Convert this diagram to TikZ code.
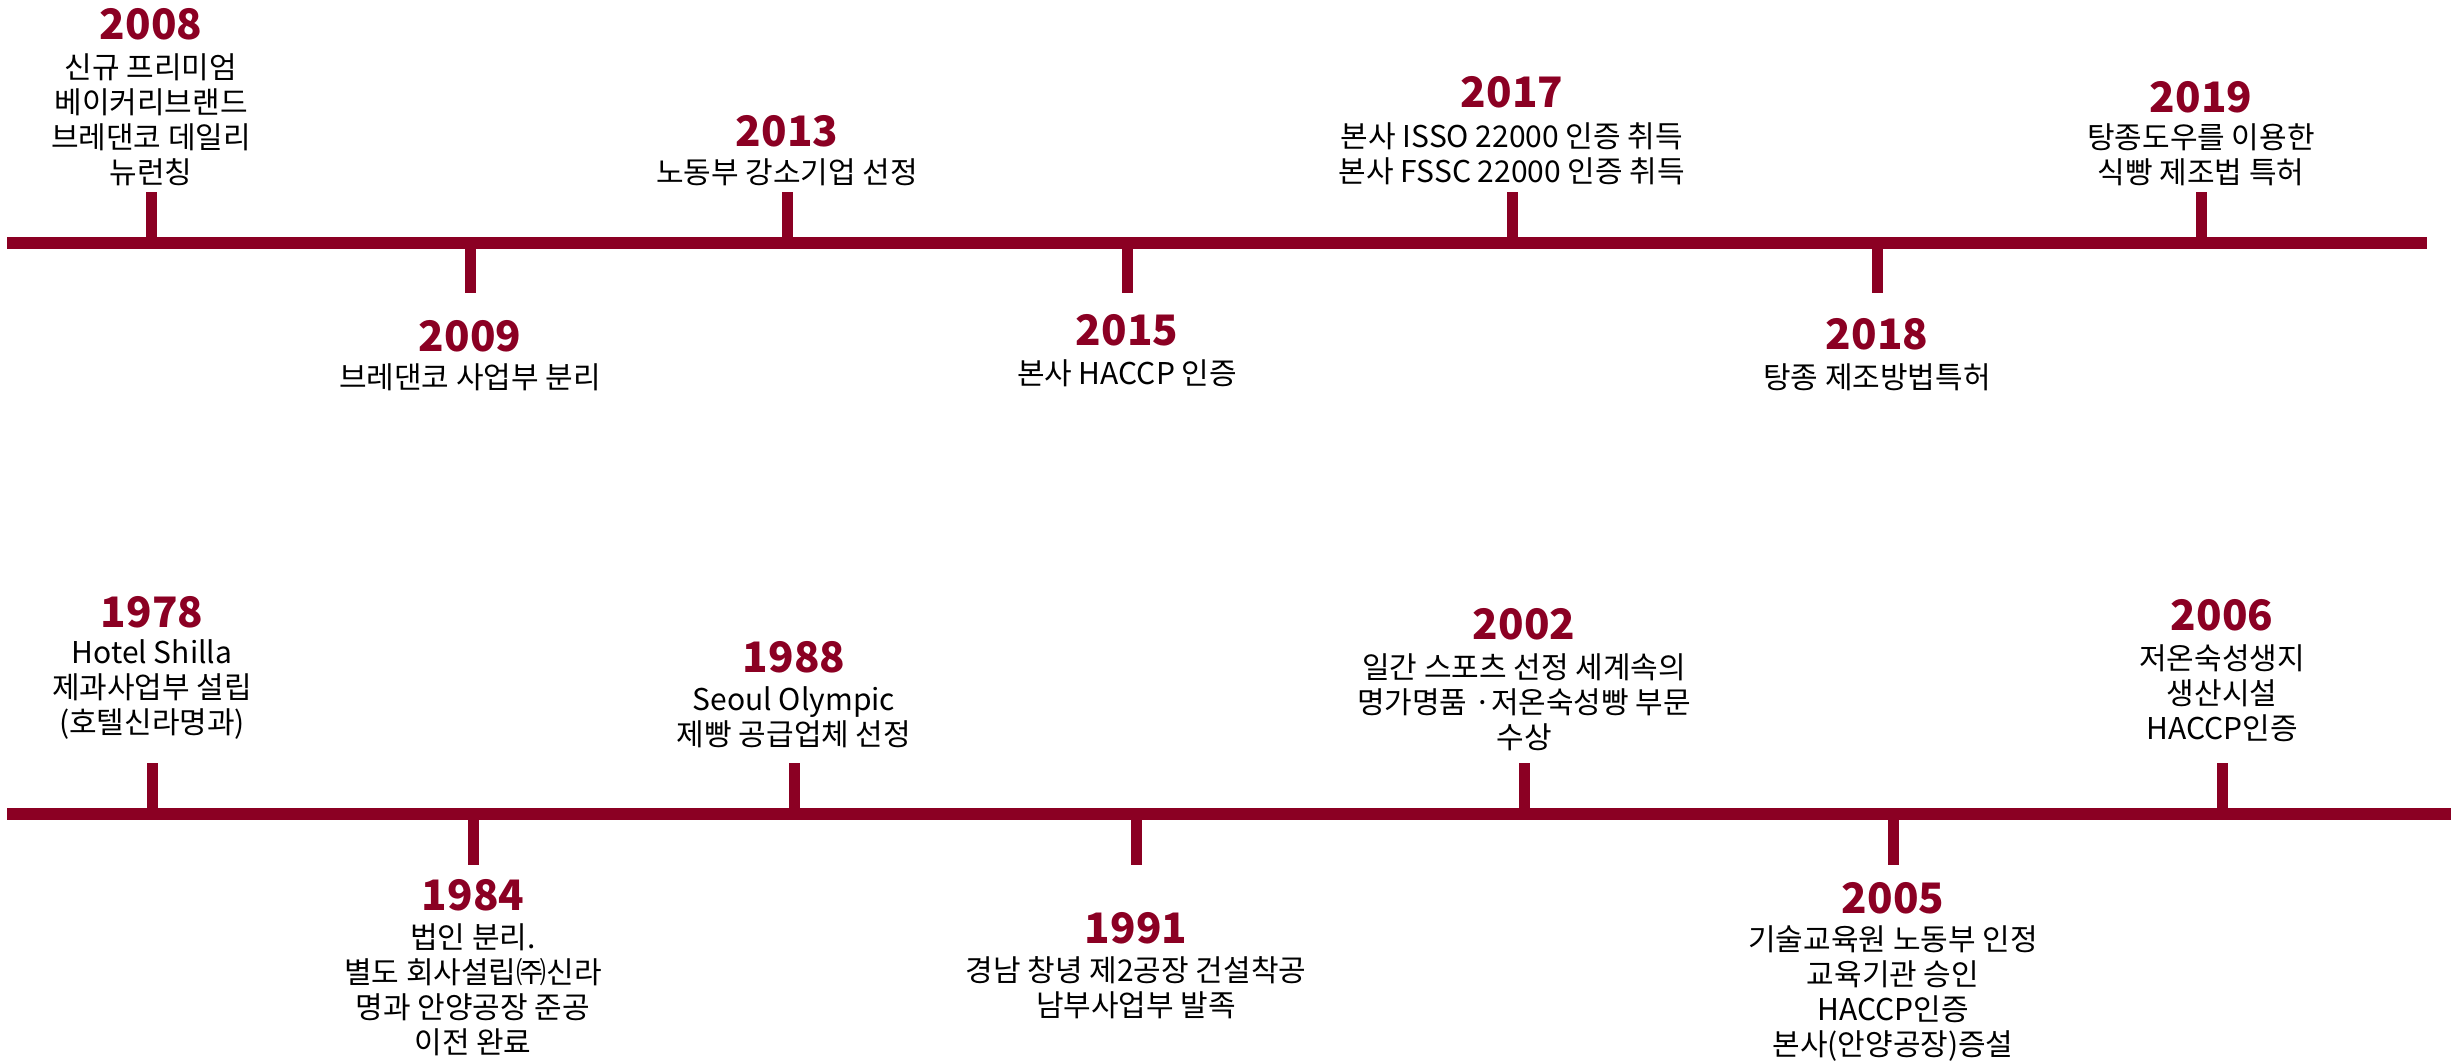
\documentclass[tikz,border=0pt]{standalone}
\usepackage{fontspec}
\setmainfont{Noto Sans CJK KR}
\definecolor{crim}{RGB}{139,0,35}
\tikzset{
  x=1pt, y=-1pt,
  axisline/.style={line width=12pt, draw=crim},
  tickline/.style={line width=11pt, draw=crim},
  yr/.style={font=\fontsize{42}{42}\selectfont\bfseries, text=crim, inner sep=0pt, anchor=center},
  body/.style={font=\fontsize{30}{35}\selectfont, align=center, inner sep=0pt, anchor=center, text=black},
}
\newcommand\tlev[8]{%
  \coordinate (#1-base) at (#2,#3);
  \coordinate (#1-end) at (#2,#4);
  \draw[tickline] (#1-base) -- (#1-end);
  \node[yr] (#1-year) at (#2,#5) {#7};
  \node[body] (#1-text) at (#2,#6) {#8};
}
\begin{document}
\begin{tikzpicture}
\useasboundingbox (0,0) rectangle (2451,1060);
% top axis
\coordinate (topL) at (7,242.5);
\coordinate (topR) at (2427,242.5);
\draw[axisline] (topL) -- (topR);
% bottom axis
\coordinate (botL) at (7,814);
\coordinate (botR) at (2451,814);
\draw[axisline] (botL) -- (botR);

% top row
\tlev{e2008}{151}{242.5}{192}{24}{119.5}{2008}{신규 프리미엄\\베이커리브랜드\\브레댄코 데일리\\뉴런칭}
\tlev{e2009}{470}{242.5}{293}{336}{377}{2009}{브레댄코 사업부 분리}
\tlev{e2013}{787}{242.5}{192}{131}{172}{2013}{노동부 강소기업 선정}
\tlev{e2015}{1127}{242.5}{293}{330}{373}{2015}{본사 HACCP 인증}
\tlev{e2017}{1512}{242.5}{192}{92}{153.5}{2017}{본사 ISSO 22000 인증 취득\\본사 FSSC 22000 인증 취득}
\tlev{e2018}{1877}{242.5}{293}{334}{377}{2018}{탕종 제조방법특허}
\tlev{e2019}{2201}{242.5}{192}{97}{155}{2019}{탕종도우를 이용한\\식빵 제조법 특허}

% bottom row
\tlev{e1978}{152}{814}{763}{612}{689}{1978}{Hotel Shilla\\제과사업부 설립\\(호텔신라명과)}
\tlev{e1984}{473}{814}{865}{895}{990}{1984}{법인 분리.\\별도 회사설립㈜신라\\명과 안양공장 준공\\이전 완료}
\tlev{e1988}{794}{814}{763}{657}{717.5}{1988}{Seoul Olympic\\제빵 공급업체 선정}
\tlev{e1991}{1136}{814}{865}{928}{987.5}{1991}{경남 창녕 제2공장 건설착공\\남부사업부 발족}
\tlev{e2002}{1524}{814}{763}{624}{702}{2002}{일간 스포츠 선정 세계속의\\명가명품 ·저온숙성빵 부문\\수상}
\tlev{e2005}{1893}{814}{865}{898}{993.5}{2005}{기술교육원 노동부 인정\\교육기관 승인\\HACCP인증\\본사(안양공장)증설}
\tlev{e2006}{2222}{814}{763}{615}{693}{2006}{저온숙성생지\\생산시설\\HACCP인증}
\end{tikzpicture}
\end{document}
